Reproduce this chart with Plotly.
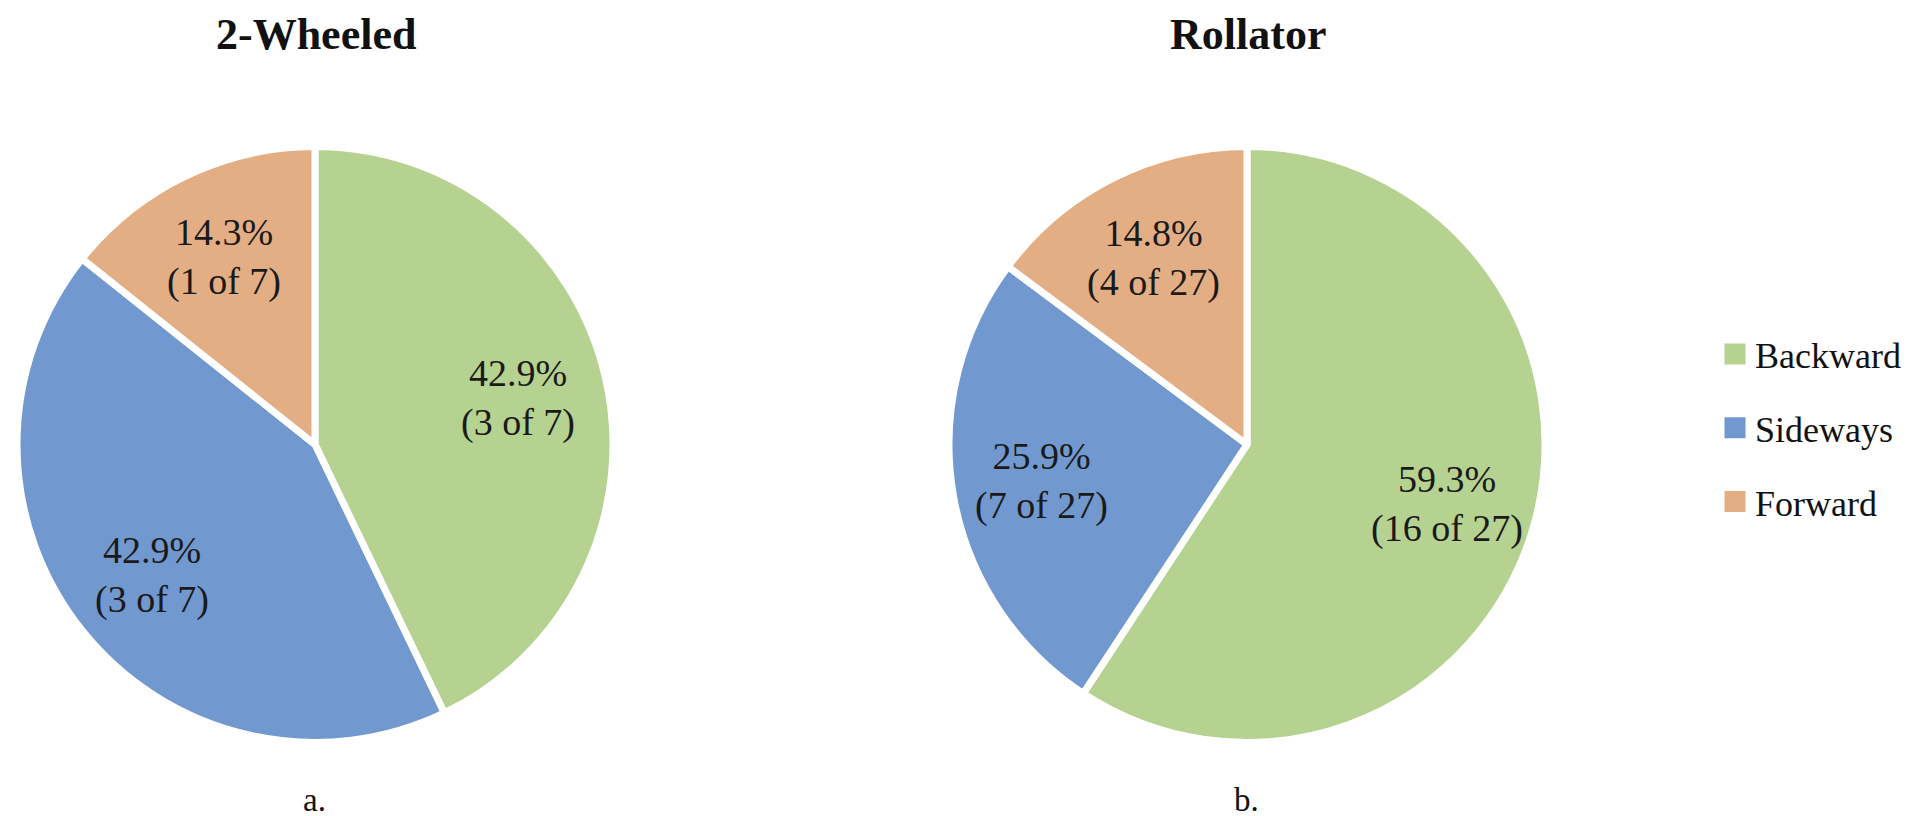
import math
import plotly.graph_objects as go

categories = ["Backward", "Sideways", "Forward"]
wheeled_counts = [3, 3, 1]
rollator_counts = [16, 7, 4]
colors = ["#B5D290", "#7199CF", "#E4AE84"]
titles = ["2-Wheeled", "Rollator"]
sublabels = ["a.", "b."]

FONT = "Liberation Serif"
W, H = 1920, 816
R = 298                       # pie radius in px
CENTERS = [(307, 436.5), (1239, 436.5)]
LABEL_FRAC = 0.70             # radial position of the slice labels


def px_domain(cx, cy, r):
    return dict(x=[(cx - r) / W, (cx + r) / W], y=[1 - (cy + r) / H, 1 - (cy - r) / H])


fig = go.Figure()
annotations = []

for vals, (cx, cy) in zip([wheeled_counts, rollator_counts], CENTERS):
    total = sum(vals)
    fig.add_trace(go.Pie(
        labels=categories,
        values=vals,
        textinfo="none",
        sort=False,
        direction="clockwise",
        rotation=0,
        marker=dict(colors=colors, line=dict(color="white", width=7)),
        domain=px_domain(cx, cy, R),
        showlegend=False,
        hoverinfo="label+value+percent",
    ))
    # slice labels placed at each slice's mid angle
    cum = 0
    for v in vals:
        mid = (cum + v / 2) / total * 2 * math.pi
        cum += v
        lx = cx + LABEL_FRAC * R * math.sin(mid)
        ly = cy - LABEL_FRAC * R * math.cos(mid)
        annotations.append(dict(
            text=f"{v / total * 100:.1f}%<br>({v} of {total})",
            x=lx / W, y=1 - ly / H, xref="paper", yref="paper",
            xanchor="center", yanchor="middle", showarrow=False,
            font=dict(family=FONT, size=38, color="#1a1a1a"),
        ))

# legend entries (dummy traces so the legend shows the category colours)
for cat, col in zip(categories, colors):
    fig.add_trace(go.Scatter(
        x=[None], y=[None], mode="markers", name=cat, legendgroup=cat,
        marker=dict(symbol="square", size=30, color=col, line=dict(color=col, width=5)),
        showlegend=True,
    ))

for t, (cx, _) in zip(titles, CENTERS):
    annotations.append(dict(text=f"<b>{t}</b>", x=(cx + 1) / W, y=1.0, xref="paper", yref="paper",
                            xanchor="center", yanchor="top", showarrow=False,
                            font=dict(family=FONT, size=44, color="#111111")))
for t, (cx, _) in zip(sublabels, CENTERS):
    annotations.append(dict(text=t, x=(cx - 1) / W, y=1 - 792 / H, xref="paper", yref="paper",
                            xanchor="center", yanchor="middle", showarrow=False,
                            font=dict(family=FONT, size=33, color="#111111")))

fig.update_layout(
    width=W, height=H,
    margin=dict(l=0, r=0, t=0, b=0),
    font=dict(family=FONT, color="#111111"),
    paper_bgcolor="white", plot_bgcolor="white",
    xaxis=dict(visible=False), yaxis=dict(visible=False),
    annotations=annotations,
    legend=dict(
        x=1707 / W, y=1 - 316 / H, xanchor="left", yanchor="top",
        font=dict(family=FONT, size=36, color="#111111"),
        tracegroupgap=24, itemsizing="trace", bgcolor="rgba(0,0,0,0)",
    ),
)

fig.write_html("out.html")
